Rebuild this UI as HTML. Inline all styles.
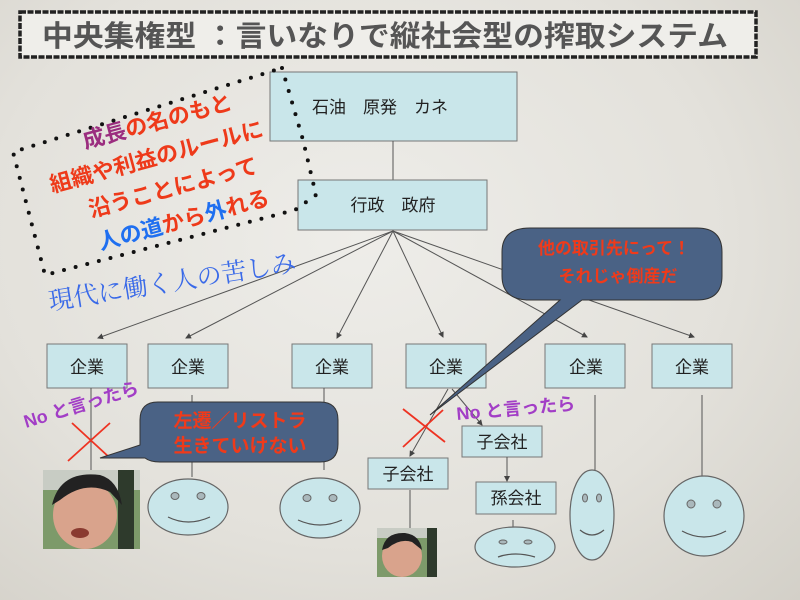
<!DOCTYPE html>
<html><head><meta charset="utf-8"><style>
html,body{margin:0;padding:0;width:800px;height:600px;overflow:hidden}
body{background:radial-gradient(ellipse at 45% 40%,#eeede9 0%,#e3e1db 60%,#d3d0c8 100%)}
svg{position:absolute;left:0;top:0}
text{font-family:"Liberation Sans","Noto Sans CJK JP",sans-serif}
.serif{font-family:"Liberation Serif","Noto Serif CJK SC",serif}
</style></head><body>
<svg width="800" height="600" viewBox="0 0 800 600">
<defs><marker id="a" markerWidth="6" markerHeight="6" refX="5" refY="3" orient="auto"><path d="M0,0 L6,3 L0,6z" fill="#444"/></marker></defs>
<rect x="20" y="12" width="736" height="45" fill="#efeeea" stroke="#222" stroke-width="3.5" stroke-dasharray="6 1.5"/>
<text x="42" y="46" font-size="29" font-weight="bold" fill="#555" textLength="686" lengthAdjust="spacingAndGlyphs">中央集権型 ：言いなりで縦社会型の搾取システム</text>
<rect x="270" y="72" width="247" height="69" fill="#c9e6ea" stroke="#777"/>
<text x="380" y="113" font-size="17" text-anchor="middle" fill="#222">石油　原発　カネ</text>
<line x1="393" y1="141" x2="393" y2="180" stroke="#555"/>
<rect x="298" y="180" width="189" height="50" fill="#c9e6ea" stroke="#777"/>
<text x="393" y="211" font-size="17" text-anchor="middle" fill="#222">行政　政府</text>
<g stroke="#555" stroke-width="1" marker-end="url(#a)">
<line x1="393" y1="231" x2="98" y2="338"/><line x1="393" y1="231" x2="186" y2="338"/>
<line x1="393" y1="231" x2="337" y2="338"/><line x1="393" y1="231" x2="443" y2="337"/>
<line x1="393" y1="231" x2="587" y2="337"/><line x1="393" y1="231" x2="694" y2="337"/>
</g>
<g fill="#c9e6ea" stroke="#777">
<rect x="47" y="344" width="80" height="44"/><rect x="148" y="344" width="80" height="44"/>
<rect x="292" y="344" width="80" height="44"/><rect x="406" y="344" width="80" height="44"/>
<rect x="545" y="344" width="80" height="44"/><rect x="652" y="344" width="80" height="44"/>
<rect x="368" y="458" width="80" height="31"/><rect x="462" y="426" width="80" height="31"/>
<rect x="476" y="482" width="80" height="32"/>
</g>
<g font-size="17" text-anchor="middle" fill="#222">
<text x="87" y="373">企業</text><text x="188" y="373">企業</text><text x="332" y="373">企業</text>
<text x="446" y="373">企業</text><text x="586" y="373">企業</text><text x="692" y="373">企業</text>
<text x="408" y="480">子会社</text><text x="502" y="448">子会社</text><text x="516" y="504">孫会社</text>
</g>
<g stroke="#555">
<line x1="91" y1="388" x2="91" y2="470"/><line x1="192" y1="395" x2="192" y2="477"/>
<line x1="324" y1="388" x2="324" y2="470"/><line x1="595" y1="395" x2="595" y2="470"/>
<line x1="702" y1="395" x2="702" y2="477"/><line x1="410" y1="490" x2="410" y2="528"/>
<line x1="513" y1="520" x2="513" y2="547"/>
<line x1="448" y1="389" x2="410" y2="456" marker-end="url(#a)"/>
<line x1="452" y1="389" x2="482" y2="425" marker-end="url(#a)"/>
<line x1="507" y1="457" x2="507" y2="481" marker-end="url(#a)"/>
</g>
<g fill="#c9e6ea" stroke="#666" stroke-width="1.2">
<ellipse cx="188" cy="507" rx="40" ry="28"/><ellipse cx="320" cy="508" rx="40" ry="30"/>
<ellipse cx="515" cy="547" rx="40" ry="20"/><ellipse cx="592" cy="515" rx="22" ry="45"/>
<circle cx="704" cy="516" r="40"/>
</g>
<g fill="#aab8bc" stroke="#666">
<ellipse cx="175" cy="496" rx="4" ry="3.5"/><ellipse cx="201" cy="496" rx="4" ry="3.5"/>
<ellipse cx="307" cy="498" rx="4" ry="3.5"/><ellipse cx="333" cy="498" rx="4" ry="3.5"/>
<ellipse cx="503" cy="542" rx="4" ry="2"/><ellipse cx="528" cy="542" rx="4" ry="2"/>
<ellipse cx="585" cy="498" rx="2.5" ry="4"/><ellipse cx="599" cy="498" rx="2.5" ry="4"/>
<circle cx="691" cy="504" r="4"/><circle cx="717" cy="504" r="4"/>
</g>
<g fill="none" stroke="#555" stroke-width="1.2">
<path d="M168,517 Q188,527 210,517"/><path d="M298,520 Q320,530 342,520"/>
<path d="M498,557 Q515,551 535,557"/><path d="M580,530 Q592,540 604,530"/>
<path d="M682,531 Q704,543 726,531"/>
</g>
<rect x="43" y="470" width="97" height="79" fill="#7d9a6a"/>
<rect x="43" y="470" width="97" height="20" fill="#c8ccc4"/>
<rect x="118" y="470" width="16" height="79" fill="#2e3a2c"/>
<ellipse cx="85" cy="515" rx="32" ry="34" fill="#d9a38c"/>
<path d="M52,505 Q60,470 100,475 Q118,480 122,505 L110,492 Q85,480 60,500z" fill="#222"/>
<ellipse cx="80" cy="533" rx="9" ry="5" fill="#8a3a30"/>
<rect x="377" y="528" width="60" height="49" fill="#7d9a6a"/>
<rect x="377" y="528" width="60" height="10" fill="#c8ccc4"/>
<ellipse cx="402" cy="556" rx="20" ry="21" fill="#d9a38c"/>
<path d="M382,550 Q385,532 405,533 Q420,535 422,550 L412,542 Q400,538 388,548z" fill="#222"/>
<rect x="427" y="528" width="10" height="49" fill="#2e3a2c"/>
<g stroke="#ee3322" stroke-width="1.8">
<line x1="72" y1="423" x2="110" y2="458"/><line x1="110" y1="423" x2="68" y2="461"/>
<line x1="403" y1="409" x2="445" y2="442"/><line x1="443" y1="410" x2="403" y2="447"/>
</g>
<path d="M158,402 H320 Q338,402 338,420 V444 Q338,462 320,462 H160 Q150,462 145,458 L100,458 L140,445 Q140,440 140,420 Q140,402 158,402z" fill="#4a6285" stroke="#333"/>
<text x="240" y="427" font-size="19" font-weight="bold" fill="#f03a1a" text-anchor="middle">左遷／リストラ</text>
<text x="240" y="452" font-size="19" font-weight="bold" fill="#f03a1a" text-anchor="middle">生きていけない</text>
<path d="M530,228 H697 Q722,228 722,252 V276 Q722,300 697,300 H582 L430,415 L560,300 H530 Q502,300 502,276 V252 Q502,228 530,228z" fill="#4a6285" stroke="#333"/>
<text x="614" y="254" font-size="17" font-weight="bold" fill="#f03a1a" text-anchor="middle">他の取引先にって！</text>
<text x="618" y="282" font-size="17" font-weight="bold" fill="#f03a1a" text-anchor="middle">それじゃ倒産だ</text>
<text x="26" y="428" font-size="18" font-weight="bold" fill="#a23ec6" transform="rotate(-17 26 428)">No と言ったら</text>
<text x="457" y="420" font-size="18" font-weight="bold" fill="#a23ec6" transform="rotate(-5 457 420)">No と言ったら</text>
<path d="M282,68 L303,140 L316,195 L295,210 L45,275 L13,152 Z" fill="none" stroke="#111" stroke-width="4" stroke-linecap="round" stroke-dasharray="0 12"/>
<g font-size="22" font-weight="bold" transform="rotate(-15 160 170)" text-anchor="middle">
<text x="170" y="130"><tspan fill="#9b2d7f">成長</tspan><tspan fill="#ee3a1a">の名のもと</tspan></text>
<text x="160" y="164" fill="#ee3a1a">組織や利益のルールに</text>
<text x="168" y="198" fill="#ee3a1a">沿うことによって</text>
<text x="170" y="232"><tspan fill="#1f6ff0">人の道</tspan><tspan fill="#ee3a1a">から</tspan><tspan fill="#1f6ff0">外</tspan><tspan fill="#ee3a1a">れる</tspan></text>
</g>
<text class="serif" x="50" y="310" font-size="25" fill="#3a6ae8" transform="rotate(-9 50 310)">現代に働く人の苦しみ</text>
</svg>
</body></html>
